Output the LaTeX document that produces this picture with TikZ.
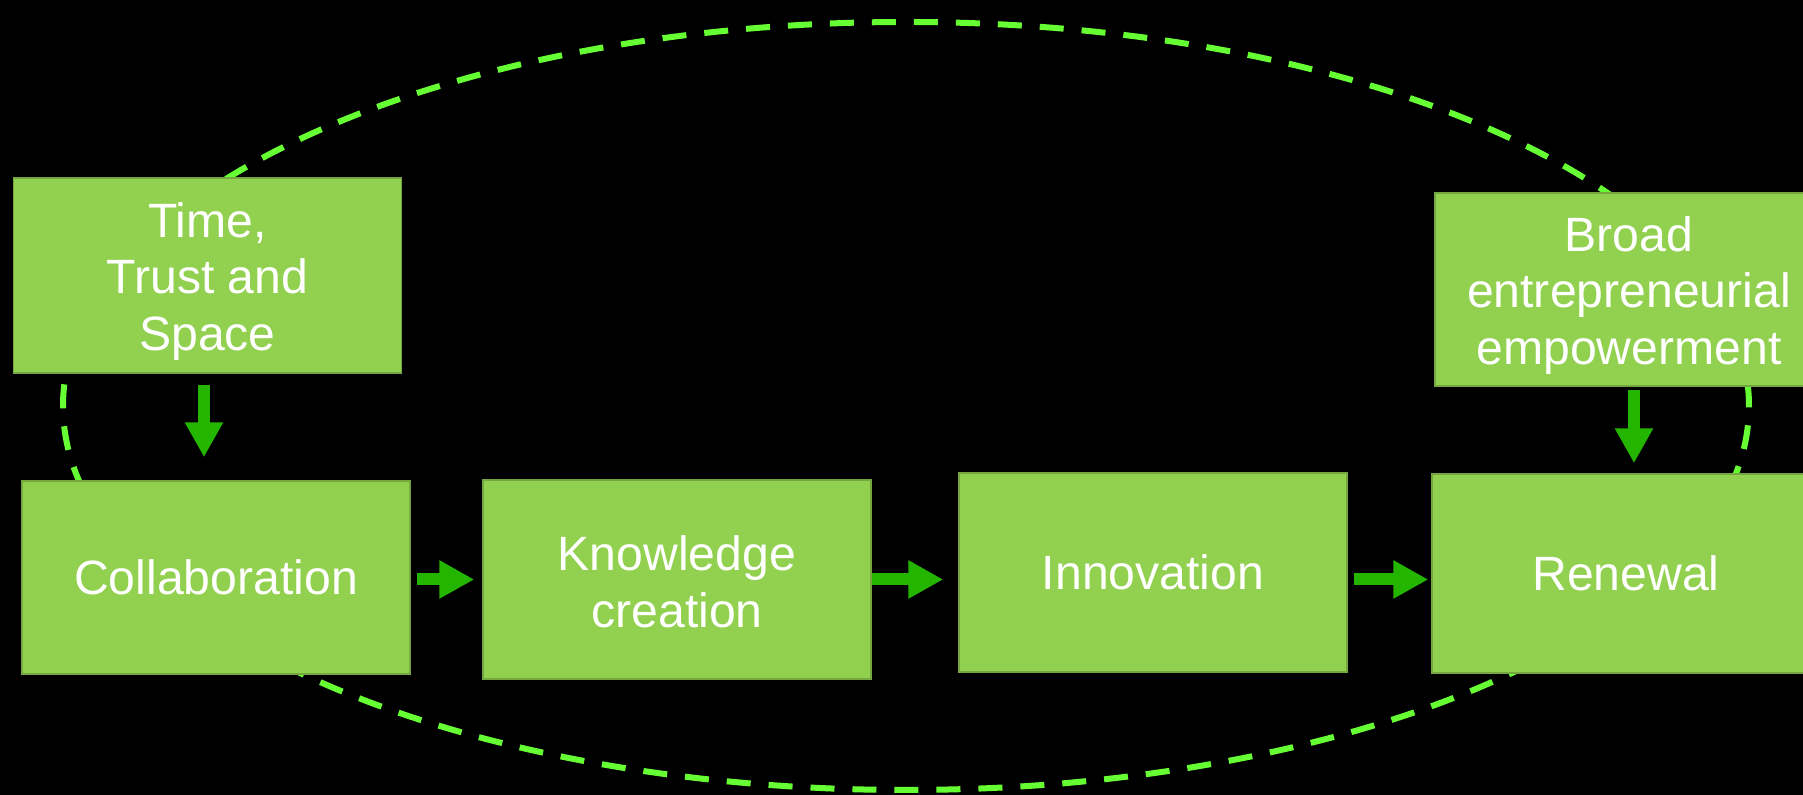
\documentclass[tikz,border=0pt]{standalone}
\usepackage{fontspec}
\setmainfont{Liberation Sans}
\usetikzlibrary{arrows.meta}
\definecolor{boxgreen}{RGB}{146,208,80}
\definecolor{pfeilgreen}{RGB}{36,181,0}
\definecolor{loopgreen}{RGB}{102,255,51}

\tikzset{
	stage/.style={fill=boxgreen, draw=boxgreen!80!black, line width=0.4pt, text=white, align=center,
		minimum width=3.88cm, minimum height=1.99cm, inner sep=0pt,
		font=\fontsize{13.7pt}{16.2pt}\selectfont},
	flow/.style={pfeilgreen, line width=0.12cm, -{Triangle[length=0.35cm, width=0.36cm]}}
}
% strut on the first line, pushes the text a little down
\newcommand{\firstline}[1]{\rule{0pt}{#1}}

\begin{document}
\begin{tikzpicture}

	\fill[black] (0,0) rectangle (18.03,7.95);
	\useasboundingbox (0,0) rectangle (18.03,7.95);
	\clip (0,0) rectangle (18.03,7.95);

	% dashed loop, lies behind the boxes
	\draw[loopgreen, line width=0.06cm, dash pattern=on 0.24cm off 0.18cm] (9.06,3.89) ellipse [x radius=8.43, y radius=3.84];

	\node[stage, minimum height=1.95cm] (time) at (2.075,5.195) {\firstline{0.47cm}Time,\\Trust and\\Space};
	\node[stage, minimum height=1.93cm] (broad) at (16.29,5.055) {\firstline{0.47cm}Broad\\entrepreneurial\\empowerment};

	\node[stage, minimum height=1.93cm] (collab) at (2.16,2.175) {Collaboration};
	\node[stage] (know) at (6.77,2.155) {\firstline{0.4cm}Knowledge\\creation};
	\node[stage] (innov) at (11.53,2.225) {Innovation};
	\node[stage] (renew) at (16.26,2.215) {Renewal};

	\draw[flow, shorten <=0.11cm, shorten >=0.23cm] ([xshift=-0.035cm]time.south) -- ([xshift=-0.035cm]time.south |- collab.north);
	\draw[flow, shorten <=0.03cm, shorten >=0.10cm] ([xshift=0.05cm]broad.south) -- ([xshift=0.05cm]broad.south |- renew.north);

	\draw[flow, shorten <=0.06cm, shorten >=0.08cm] (collab.east |- know.west) -- (know.west);
	\draw[flow, shorten >=0.15cm] (know.east) -- (know.east -| innov.west);
	\draw[flow, shorten <=0.06cm, shorten >=0.03cm] (innov.east |- know.east) -- (renew.west |- know.east);

\end{tikzpicture}
\end{document}
